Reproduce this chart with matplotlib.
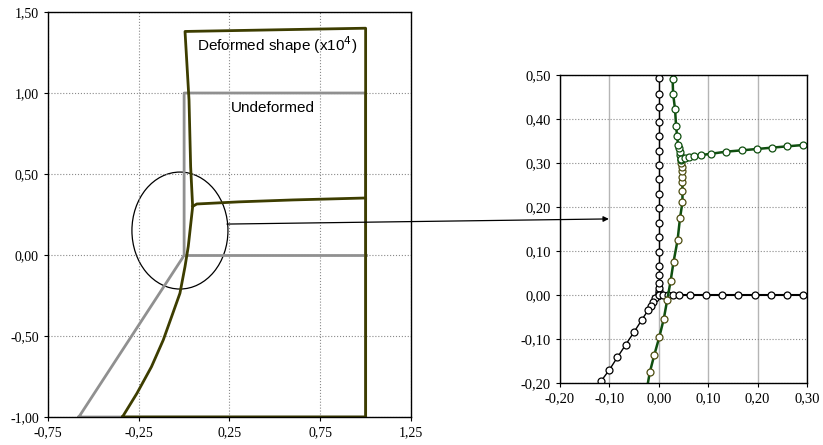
import matplotlib.pyplot as plt
import numpy as np
from matplotlib.patches import Ellipse, ConnectionPatch
from matplotlib.ticker import FuncFormatter, MultipleLocator, FixedLocator

# Vista general: forma sin deformar
und_x = [-0.58, -0.01, 0.0, 0.0, 1.0, 1.0, -0.58]
und_y = [-1.0, -0.02, 0.0, 1.0, 1.0, -1.0, -1.0]
und_beam_x = [0.0, 1.0]
und_beam_y = [0.0, 0.0]

# Vista general: forma deformada (x10^4)
def_x = [-0.34, -0.26, -0.18, -0.115, -0.069, -0.023, 0.005, 0.023, 0.047,
         0.036, 0.027, 0.005, 1.0, 1.0, -0.34]
def_y = [-1.0, -0.854, -0.69, -0.525, -0.381, -0.236, -0.071, 0.054, 0.298,
         0.545, 0.957, 1.38, 1.40, -1.0, -1.0]
def_beam_x = [0.047, 0.07, 0.30, 0.60, 1.0]
def_beam_y = [0.30, 0.315, 0.328, 0.34, 0.352]

left_xticks = [-0.75, -0.25, 0.25, 0.75, 1.25]

# Detalle del nudo: sin deformar
det_col_y = [0.0, 0.004, 0.009, 0.017, 0.028, 0.046, 0.066, 0.098, 0.131, 0.164,
             0.198, 0.230, 0.264, 0.296, 0.328, 0.361, 0.393, 0.427, 0.458, 0.493, 0.53]
det_col_x = [0.0] * len(det_col_y)
det_beam_x = [0.0, 0.009, 0.019, 0.028, 0.041, 0.064, 0.095, 0.128, 0.161, 0.194,
              0.227, 0.260, 0.292, 0.325]
det_beam_y = [0.0] * len(det_beam_x)
det_strut_x = [0.0, -0.007, -0.012, -0.015, -0.022, -0.034, -0.050, -0.067, -0.084,
               -0.100, -0.117, -0.134]
det_strut_y = [0.0, -0.007, -0.015, -0.026, -0.035, -0.056, -0.084, -0.113, -0.142,
               -0.170, -0.196, -0.225]

# Detalle del nudo: deformada
ddef_strut_x = [-0.026, -0.018, -0.009, 0.001, 0.010, 0.017, 0.024, 0.030, 0.038,
                0.043, 0.048, 0.048, 0.048, 0.048, 0.047, 0.047, 0.046]
ddef_strut_y = [-0.225, -0.175, -0.136, -0.096, -0.055, -0.012, 0.032, 0.076, 0.124,
                0.175, 0.211, 0.237, 0.256, 0.269, 0.281, 0.290, 0.299]
ddef_col_x = [0.046, 0.045, 0.043, 0.042, 0.041, 0.039, 0.037, 0.035, 0.033, 0.029,
              0.028, 0.026]
ddef_col_y = [0.307, 0.309, 0.318, 0.326, 0.334, 0.342, 0.362, 0.385, 0.422, 0.458,
              0.492, 0.53]
ddef_beam_x = [0.046, 0.053, 0.062, 0.071, 0.085, 0.105, 0.137, 0.169, 0.199, 0.229,
               0.260, 0.292, 0.325]
ddef_beam_y = [0.309, 0.311, 0.313, 0.315, 0.318, 0.321, 0.326, 0.329, 0.332, 0.335,
               0.338, 0.341, 0.343]

gris = '#909090'
oliva = '#3d3d00'
verde = '#0f4f0f'

plt.rcParams['font.family'] = 'serif'
plt.rcParams['font.serif'] = ['Liberation Serif', 'DejaVu Serif']
fmt = FuncFormatter(lambda v, p: f'{v:.2f}'.replace('.', ','))

fig = plt.figure(figsize=(8.23, 4.45), dpi=100)

# Grafico izquierdo
ax1 = fig.add_axes([0.0583, 0.0629, 0.4411, 0.9101])
ax1.plot(und_x, und_y, color=gris, lw=2)
ax1.plot(und_beam_x, und_beam_y, color=gris, lw=2)
ax1.plot(def_x, def_y, color=oliva, lw=2)
ax1.plot(def_beam_x, def_beam_y, color=oliva, lw=2)
ax1.set_xlim(-0.75, 1.25)
ax1.set_ylim(-1.0, 1.5)
ax1.xaxis.set_major_locator(FixedLocator(left_xticks))
ax1.yaxis.set_major_locator(MultipleLocator(0.5))
ax1.xaxis.set_major_formatter(fmt)
ax1.yaxis.set_major_formatter(fmt)
ax1.grid(True, color='#8a8a8a', ls=':', lw=0.8)
ax1.tick_params(labelsize=10, length=3, width=0.8)
for s in ax1.spines.values():
    s.set_linewidth(1)
ax1.text(0.51, 1.296, 'Deformed shape (x10$^4$)', family='Liberation Sans', fontsize=11,
         ha='center', va='center')
ax1.text(0.49, 0.907, 'Undeformed', family='Liberation Sans', fontsize=11,
         ha='center', va='center')
ax1.add_patch(Ellipse((-0.023, 0.151), 0.529, 0.722, fill=False, ec='black', lw=0.9))

# Grafico derecho (detalle)
ax2 = fig.add_axes([0.6804, 0.1393, 0.3001, 0.692])
mk = dict(marker='o', ms=5, mfc='white', mew=0.9)
ax2.plot(det_col_x, det_col_y, color='black', lw=1, mec='black', **mk)
ax2.plot(det_strut_x, det_strut_y, color='black', lw=1, mec='black', **mk)
ax2.plot(det_beam_x, det_beam_y, color='black', lw=1.5, mec='black', **mk)
ax2.plot(ddef_strut_x, ddef_strut_y, color=verde, lw=1.8, mec='#4d4d10', **mk)
ax2.plot(ddef_col_x, ddef_col_y, color=verde, lw=1.8, mec=verde, **mk)
ax2.plot(ddef_beam_x, ddef_beam_y, color=verde, lw=1.8, mec=verde, **mk)
ax2.set_xlim(-0.2, 0.3)
ax2.set_ylim(-0.2, 0.5)
ax2.xaxis.set_major_locator(MultipleLocator(0.1))
ax2.yaxis.set_major_locator(MultipleLocator(0.1))
ax2.xaxis.set_major_formatter(fmt)
ax2.yaxis.set_major_formatter(fmt)
ax2.grid(True, axis='x', color='#b5b5b5', ls='-', lw=1)
ax2.grid(True, axis='y', color='#8a8a8a', ls=':', lw=0.8)
ax2.set_axisbelow(True)
ax2.tick_params(labelsize=10.5, length=3, width=0.8)
for s in ax2.spines.values():
    s.set_linewidth(1)

# Flecha del circulo al detalle
flecha = ConnectionPatch(xyA=(0.236, 0.191), coordsA=ax1.transData,
                         xyB=(-0.101, 0.173), coordsB=ax2.transData,
                         arrowstyle='-|>', mutation_scale=8, color='black', lw=0.9)
fig.add_artist(flecha)

plt.savefig('out.png', dpi=100)
